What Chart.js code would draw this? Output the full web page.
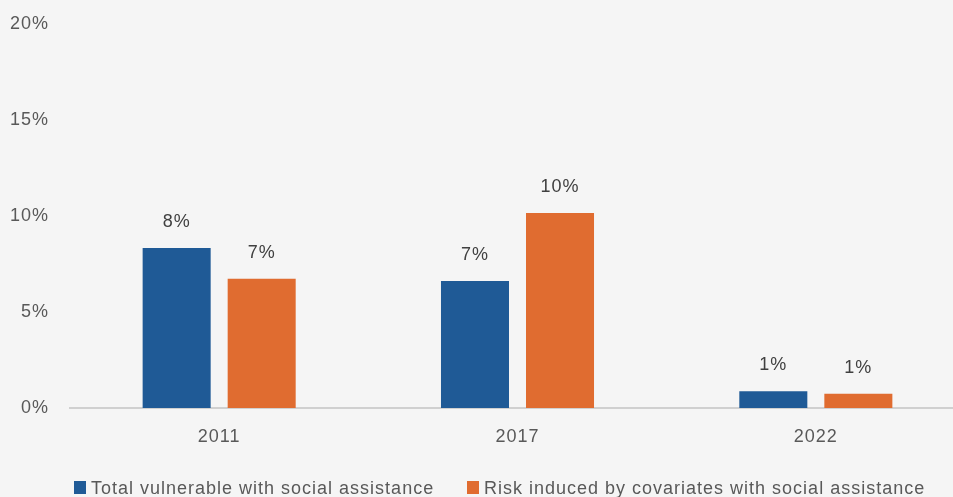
<!DOCTYPE html>
<html>
<head>
<meta charset="utf-8">
<script src="https://cdn.jsdelivr.net/npm/chart.js@4.4.0/dist/chart.umd.min.js"></script>
<style>
  html, body { margin: 0; padding: 0; background: #f5f5f5; overflow: hidden; }
  canvas { display: block; }
</style>
</head>
<body>
<canvas id="chart" width="966" height="497"></canvas>
<script>
// Data
const categories = ['2011', '2017', '2022'];
const totalVulnerable = [8.33, 6.61, 0.87];
const riskCovariates = [6.73, 10.16, 0.74];
const seriesLabels = ['Total vulnerable with social assistance', 'Risk induced by covariates with social assistance'];
const yTicks = [0, 5, 10, 15, 20];

const BLUE = '#1F5A96';
const ORANGE = '#E06C30';
const FONT = "'Liberation Sans', Arial, sans-serif";

// background fill + slightly wider letter spacing for all text
const bgPlugin = {
  id: 'bg',
  beforeDraw(chart) {
    const ctx = chart.ctx;
    ctx.save();
    ctx.fillStyle = '#f5f5f5';
    ctx.fillRect(0, 0, chart.width, chart.height);
    ctx.restore();
    ctx.letterSpacing = '1px';
  }
};

// value labels above bars
const valueLabels = {
  id: 'valueLabels',
  afterDatasetsDraw(chart) {
    const ctx = chart.ctx;
    ctx.save();
    ctx.font = '18px ' + FONT;
    ctx.letterSpacing = '1px';
    ctx.fillStyle = '#404040';
    ctx.textAlign = 'center';
    ctx.textBaseline = 'middle';
    chart.data.datasets.forEach((ds, i) => {
      chart.getDatasetMeta(i).data.forEach((bar, j) => {
        ctx.fillText(Math.round(ds.data[j]) + '%', bar.x, bar.y - 26);
      });
    });
    ctx.restore();
  }
};

// legend at the bottom
const legendStarts = [74, 467];
const bottomLegend = {
  id: 'bottomLegend',
  afterDraw(chart) {
    const ctx = chart.ctx;
    ctx.save();
    ctx.font = '18px ' + FONT;
    ctx.letterSpacing = '1px';
    ctx.textBaseline = 'alphabetic';
    chart.data.datasets.forEach((ds, i) => {
      const x = legendStarts[i];
      ctx.fillStyle = ds.backgroundColor;
      ctx.fillRect(x, 481, 12, 13);
      ctx.fillStyle = '#595959';
      ctx.fillText(ds.label, x + 17, 494);
    });
    ctx.restore();
  }
};

new Chart(document.getElementById('chart'), {
  type: 'bar',
  data: {
    labels: categories,
    datasets: [
      { label: seriesLabels[0], data: totalVulnerable, backgroundColor: BLUE },
      { label: seriesLabels[1], data: riskCovariates, backgroundColor: ORANGE }
    ]
  },
  options: {
    responsive: false,
    animation: false,
    devicePixelRatio: 1,
    layout: { padding: { top: 24, bottom: 49, right: 1, left: 0 } },
    datasets: { bar: { categoryPercentage: 0.57, barPercentage: 0.8 } },
    plugins: {
      legend: { display: false },
      tooltip: { enabled: false }
    },
    scales: {
      x: {
        grid: { display: false, drawTicks: false },
        border: { display: true, color: '#d0d0d0', width: 2 },
        ticks: { color: '#595959', font: { family: FONT, size: 18 }, padding: 18 },
        afterFit(scale) { scale.height = 40; }
      },
      y: {
        min: 0,
        max: 20,
        afterBuildTicks(scale) { scale.ticks = yTicks.map(v => ({ value: v })); },
        grid: { display: false, drawTicks: false },
        border: { display: false },
        ticks: {
          color: '#595959',
          font: { family: FONT, size: 18 },
          padding: 21,
          callback: v => v + '%'
        },
        afterFit(scale) {
          scale.width = 70;
          scale.paddingTop = 0;
          scale.paddingBottom = 0;
        }
      }
    }
  },
  plugins: [bgPlugin, valueLabels, bottomLegend]
});
</script>
</body>
</html>
